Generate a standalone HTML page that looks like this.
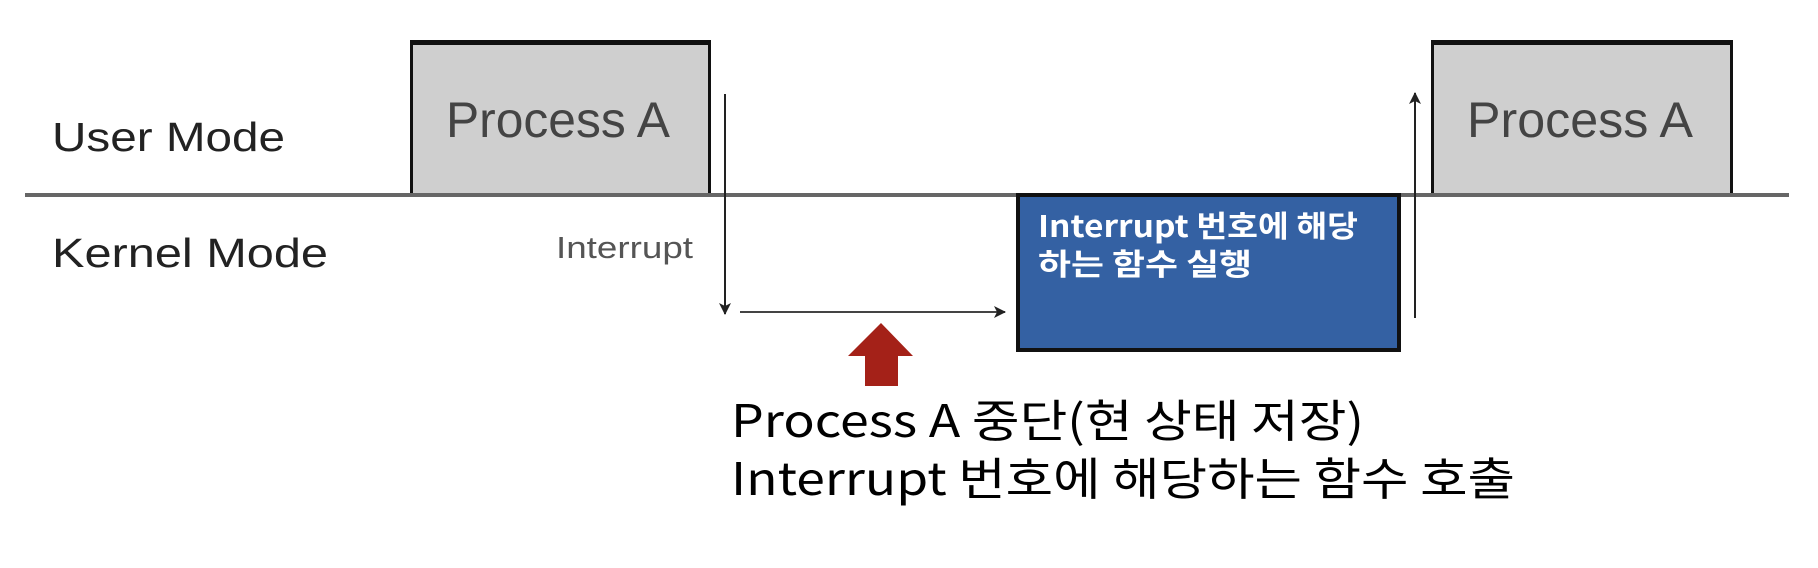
<!DOCTYPE html>
<html><head><meta charset="utf-8"><style>
html,body{margin:0;padding:0;background:#fff;}
svg{display:block;}
</style></head><body>
<svg width="1818" height="568" viewBox="0 0 1818 568" xmlns="http://www.w3.org/2000/svg">
<defs>
<marker id="ah" markerWidth="12" markerHeight="12" refX="11" refY="6" orient="auto" markerUnits="userSpaceOnUse">
<path d="M0,0 L12,6 L0,12 L3,6 Z" fill="#222"/>
</marker>
</defs>
<rect x="411.5" y="43" width="298" height="152" fill="#cfcfcf" stroke="#111" stroke-width="3"/>
<rect x="410" y="40" width="301" height="5" fill="#111"/>
<rect x="1432.5" y="43" width="299" height="152" fill="#cfcfcf" stroke="#111" stroke-width="3"/>
<rect x="1431" y="40" width="302" height="5" fill="#111"/>
<rect x="25" y="193" width="1764" height="4" fill="#666"/>
<rect x="1018" y="195" width="381" height="155" fill="#3461a3" stroke="#111" stroke-width="4"/>
<line x1="725" y1="94" x2="725" y2="314" stroke="#222" stroke-width="2" marker-end="url(#ah)"/>
<line x1="740" y1="312" x2="1005" y2="312" stroke="#444" stroke-width="2" marker-end="url(#ah)"/>
<line x1="1415" y1="318" x2="1415" y2="93" stroke="#222" stroke-width="2" marker-end="url(#ah)"/>
<polygon points="881,323 913,356 898,356 898,386 865,386 865,356 848,356" fill="#a42118"/>
<g font-family="Liberation Sans, 'Noto Sans CJK KR', sans-serif">
<text x="52" y="151" font-size="41" fill="#222" textLength="233" lengthAdjust="spacingAndGlyphs">User Mode</text>
<text x="52" y="267" font-size="41" fill="#222" textLength="276" lengthAdjust="spacingAndGlyphs">Kernel Mode</text>
<text x="556" y="258" font-size="31" fill="#555" textLength="137" lengthAdjust="spacingAndGlyphs">Interrupt</text>
<text x="446" y="137" font-size="50" fill="#444" textLength="224" lengthAdjust="spacingAndGlyphs">Process A</text>
<text x="1467" y="137" font-size="50" fill="#444" textLength="226" lengthAdjust="spacingAndGlyphs">Process A</text>
</g>
<g font-family="'Noto Sans CJK KR', sans-serif">
<text x="1038" y="237" font-size="30" font-weight="bold" fill="#fff" textLength="320" lengthAdjust="spacingAndGlyphs">Interrupt 번호에 해당</text>
<text x="1038" y="275" font-size="30" font-weight="bold" fill="#fff" textLength="214" lengthAdjust="spacingAndGlyphs">하는 함수 실행</text>
<text x="731" y="437" font-size="45" fill="#000" textLength="633" lengthAdjust="spacingAndGlyphs">Process A 중단(현 상태 저장)</text>
<text x="731" y="495" font-size="45" fill="#000" textLength="784" lengthAdjust="spacingAndGlyphs">Interrupt 번호에 해당하는 함수 호출</text>
</g>
</svg>
</body></html>
